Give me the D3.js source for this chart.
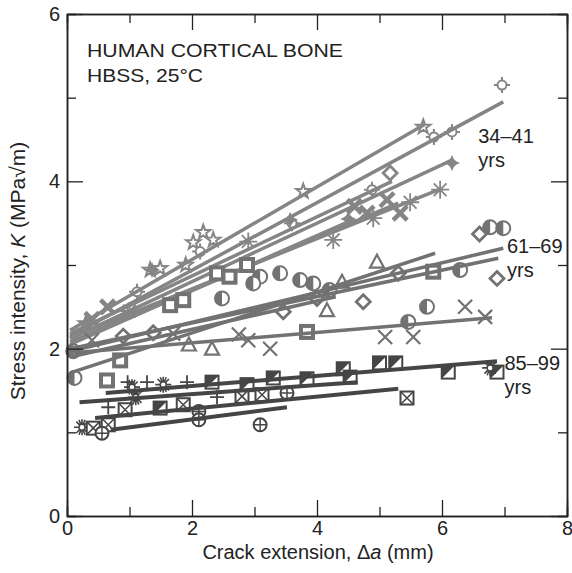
<!DOCTYPE html>
<meta charset="utf-8">
<style>
  body { margin: 0; background: #fff; }
  text { font-family: "Liberation Sans", Arial, sans-serif; fill: #222; }
</style>
<script src="https://d3js.org/d3.v7.min.js"></script>
<div id="chart"></div>
<script>
// line fits: [a0, K0, a1, K1]
const youngLines = [
  [0.05, 2.22, 5.72, 4.68],
  [0.05, 2.15, 6.98, 4.95],
  [0.05, 2.12, 6.15, 4.25],
  [0.05, 2.13, 5.95, 3.90],
  [0.05, 2.08, 5.30, 3.74],
  [0.05, 2.18, 5.20, 4.00],
  [0.05, 2.05, 4.60, 3.55]
];
const midLines = [
  [0.05, 1.97, 6.98, 3.20],
  [0.05, 2.00, 6.90, 3.08],
  [0.05, 1.71, 5.89, 3.14],
  [0.10, 1.95, 6.80, 2.37],
  [0.05, 1.90, 4.30, 2.62]
];
const oldLines = [
  [0.62, 1.47, 6.88, 1.85],
  [0.20, 1.36, 4.65, 1.60],
  [0.45, 1.17, 5.30, 1.52],
  [0.70, 1.03, 3.52, 1.30]
];

// measured points: [a, K, marker]
const youngPoints = [
  [5.70, 4.65, "star"], [3.78, 3.88, "star"], [2.18, 3.39, "star"], [2.02, 3.27, "star"],
  [2.34, 3.30, "star"], [1.33, 2.94, "star"], [1.49, 2.96, "star"], [1.90, 3.00, "star"], [0.30, 2.30, "star"],
  [6.96, 5.15, "circx"], [5.87, 4.53, "circx"], [6.16, 4.59, "circx"], [4.88, 3.90, "circx"],
  [2.13, 3.16, "circx"], [1.12, 2.68, "circx"], [3.60, 3.50, "circx"],
  [6.16, 4.22, "fstar"], [3.57, 3.54, "fstar"], [1.36, 2.94, "fstar"], [4.50, 3.55, "fstar"],
  [5.17, 4.10, "diam"],
  [5.97, 3.90, "aster"], [5.49, 3.75, "aster"], [4.90, 3.56, "aster"], [4.26, 3.30, "aster"],
  [2.90, 3.28, "aster"], [1.00, 2.45, "aster"],
  [5.12, 3.78, "xbold"], [5.33, 3.62, "xbold"], [4.80, 3.62, "xbold"], [4.60, 3.70, "xbold"],
  [0.65, 2.50, "xbold"], [0.40, 2.35, "xbold"]
];
const midPoints = [
  [6.77, 3.45, "halfc"], [6.98, 3.44, "halfc"], [6.29, 2.94, "halfc"], [5.76, 2.50, "halfc"],
  [5.46, 2.32, "halfc"], [3.09, 2.86, "halfc"], [3.41, 2.90, "halfc"], [3.73, 2.82, "halfc"],
  [3.94, 2.78, "halfc"], [2.98, 2.78, "halfc"], [2.48, 2.60, "halfc"], [0.10, 1.97, "halfc"],
  [0.12, 1.65, "halfc"], [4.20, 2.70, "halfc"],
  [6.60, 3.37, "diam"], [6.88, 2.84, "diam"], [4.74, 2.56, "diam"], [1.38, 2.19, "diam"],
  [0.90, 2.15, "diam"], [3.46, 2.44, "diam"], [5.30, 2.90, "diam"], [4.00, 2.60, "diam"],
  [0.85, 1.86, "sq"], [5.86, 2.92, "sq"], [3.84, 2.20, "sq"], [2.40, 2.90, "sq"], [2.88, 3.00, "sq"],
  [2.60, 2.86, "sq"], [1.65, 2.52, "sq"], [1.86, 2.58, "sq"], [0.64, 1.62, "sq"],
  [4.96, 3.04, "tri"], [4.16, 2.46, "tri"], [2.32, 2.00, "tri"], [1.95, 2.05, "tri"], [4.40, 2.80, "tri"],
  [6.37, 2.50, "x"], [6.69, 2.38, "x"], [5.54, 2.14, "x"], [5.09, 2.14, "x"], [3.25, 2.00, "x"],
  [2.90, 2.10, "x"], [2.75, 2.17, "x"], [1.70, 2.18, "x"], [0.40, 2.10, "x"]
];
const oldPoints = [
  [2.32, 1.60, "halfsq"], [2.88, 1.57, "halfsq"], [3.30, 1.65, "halfsq"], [3.84, 1.64, "halfsq"],
  [4.42, 1.76, "halfsq"], [4.53, 1.66, "halfsq"], [5.00, 1.83, "halfsq"], [5.26, 1.83, "halfsq"],
  [6.10, 1.72, "halfsq"], [6.88, 1.72, "halfsq"], [1.49, 1.29, "halfsq"],
  [0.97, 1.60, "plus"], [1.28, 1.60, "plus"], [1.92, 1.60, "plus"], [0.66, 1.30, "plus"], [2.40, 1.42, "plus"],
  [1.04, 1.54, "burst"], [1.10, 1.42, "burst"], [1.54, 1.57, "burst"], [0.24, 1.06, "burst"], [6.77, 1.77, "burst"],
  [0.93, 1.27, "sqx"], [0.42, 1.05, "sqx"], [0.66, 1.09, "sqx"], [1.86, 1.33, "sqx"],
  [2.80, 1.43, "sqx"], [3.12, 1.45, "sqx"], [5.44, 1.41, "sqx"],
  [0.56, 0.99, "circp"], [2.11, 1.25, "circp"], [2.11, 1.15, "circp"], [3.09, 1.09, "circp"], [3.52, 1.47, "circp"]
];

const xMajor = [0, 2, 4, 6, 8], xMinor = [1, 3, 5, 7];
const yMajor = [0, 2, 4, 6], yMinor = [1, 3, 5];

const groups = [
  {lines: youngLines, points: youngPoints, color: "#858585", lw: 3.5, label: ["34–41", "yrs"], la: 6.58, lk: 4.46},
  {lines: midLines, points: midPoints, color: "#727272", lw: 3.5, label: ["61–69", "yrs"], la: 7.04, lk: 3.14},
  {lines: oldLines, points: oldPoints, color: "#454545", lw: 4, label: ["85–99", "yrs"], la: 7.0, lk: 1.75}
];

const W = 572, H = 573;
const margin = {top: 14, right: 5, bottom: 57, left: 67};
const width = W - margin.left - margin.right,
      height = H - margin.top - margin.bottom;

const svg = d3.select("#chart").append("svg")
    .attr("width", W).attr("height", H)
  .append("g")
    .attr("transform", `translate(${margin.left},${margin.top})`);

const x = d3.scaleLinear().domain([0, 8]).range([0, width]);
const y = d3.scaleLinear().domain([0, 6]).range([height, 0]);

// draw one marker at origin of g
function drawMark(g, type, c) {
  switch (type) {
    case "star": {
      const pts = d3.range(10).map(i => {
        const r = i % 2 ? 3 : 7.5, t = -Math.PI / 2 + i * Math.PI / 5;
        return [r * Math.cos(t), r * Math.sin(t)];
      });
      g.append("path").attr("d", "M" + pts.join("L") + "Z")
        .attr("fill", "#fff").attr("stroke", c).attr("stroke-width", 2);
      break;
    }
    case "circx":
      g.append("circle").attr("r", 4.5).attr("fill", "#fff").attr("stroke", c).attr("stroke-width", 2);
      g.append("path").attr("d", "M-8,0H-4.5M4.5,0H8M0,-8V-4.5M0,4.5V8").attr("stroke", c).attr("stroke-width", 2);
      break;
    case "fstar":
      g.append("path").attr("d", "M0,-8L2.5,-2.5L8,0L2.5,2.5L0,8L-2.5,2.5L-8,0L-2.5,-2.5Z").attr("fill", c);
      g.append("circle").attr("r", 4).attr("fill", c);
      break;
    case "diam":
      g.append("path").attr("d", "M0,-7L7,0L0,7L-7,0Z").attr("fill", "#fff").attr("stroke", c).attr("stroke-width", 2.8);
      break;
    case "aster":
      g.append("path").attr("d", "M-9,0H9M0,-9V9M-6.4,-6.4L6.4,6.4M-6.4,6.4L6.4,-6.4").attr("stroke", c).attr("stroke-width", 1.8);
      break;
    case "xbold":
      g.append("path").attr("d", "M-7,-7L7,7M-7,7L7,-7").attr("stroke", c).attr("stroke-width", 4.5);
      break;
    case "halfc":
      g.append("circle").attr("r", 7).attr("fill", "#fff").attr("stroke", c).attr("stroke-width", 2);
      g.append("path").attr("d", "M0,-7A7,7 0 0 0 0,7Z").attr("fill", c);
      break;
    case "sq":
      g.append("rect").attr("x", -6).attr("y", -6).attr("width", 12).attr("height", 12)
        .attr("fill", "#fff").attr("stroke", c).attr("stroke-width", 4);
      break;
    case "tri":
      g.append("path").attr("d", "M0,-7L7,6L-7,6Z").attr("fill", "#fff").attr("stroke", c).attr("stroke-width", 2.2);
      break;
    case "x":
      g.append("path").attr("d", "M-7,-7L7,7M-7,7L7,-7").attr("stroke", c).attr("stroke-width", 2.2);
      break;
    case "halfsq":
      g.append("rect").attr("x", -6.5).attr("y", -6.5).attr("width", 13).attr("height", 13)
        .attr("fill", "#fff").attr("stroke", c).attr("stroke-width", 2);
      g.append("path").attr("d", "M-6.5,-6.5H6.5L-6.5,6.5Z").attr("fill", c);
      break;
    case "plus":
      g.append("path").attr("d", "M-7,0H7M0,-7V7").attr("stroke", c).attr("stroke-width", 1.8);
      break;
    case "burst":
      g.append("path").attr("d", "M-8,0H8M0,-8V8M-5.7,-5.7L5.7,5.7M-5.7,5.7L5.7,-5.7M-3,-7.4L3,7.4M3,-7.4L-3,7.4")
        .attr("stroke", c).attr("stroke-width", 1.6);
      g.append("circle").attr("r", 3).attr("fill", "#fff").attr("stroke", c).attr("stroke-width", 1.5);
      break;
    case "sqx":
      g.append("rect").attr("x", -6.5).attr("y", -6.5).attr("width", 13).attr("height", 13)
        .attr("fill", "#fff").attr("stroke", c).attr("stroke-width", 2);
      g.append("path").attr("d", "M-6,-6L6,6M-6,6L6,-6").attr("stroke", c).attr("stroke-width", 1.5);
      break;
    case "circp":
      g.append("circle").attr("r", 6.5).attr("fill", "#fff").attr("stroke", c).attr("stroke-width", 2);
      g.append("path").attr("d", "M-6.5,0H6.5M0,-6.5V6.5").attr("stroke", c).attr("stroke-width", 1.5);
      break;
  }
}

// points first, then fit lines over them
groups.forEach(grp => {
  const pg = svg.append("g");
  grp.points.forEach(p => {
    const g = pg.append("g").attr("transform", `translate(${x(p[0])},${y(p[1])})`);
    drawMark(g, p[2], grp.color);
  });
  svg.append("g").selectAll("line")
    .data(grp.lines)
    .join("line")
      .attr("x1", d => x(d[0])).attr("y1", d => y(d[1]))
      .attr("x2", d => x(d[2])).attr("y2", d => y(d[3]))
      .attr("stroke", grp.color)
      .attr("stroke-width", grp.lw)
      .attr("stroke-linecap", "butt");
  const t = svg.append("text")
      .attr("x", x(grp.la)).attr("y", y(grp.lk))
      .style("font-size", "20px");
  t.append("tspan").text(grp.label[0]);
  t.append("tspan").attr("x", x(grp.la)).attr("dy", 24).text(grp.label[1]);
});

// axes with inward ticks on all four sides
function styleAxis(g) {
  g.selectAll("path.domain").attr("stroke", "#222").attr("stroke-width", 1.5);
  g.selectAll(".tick line").attr("stroke", "#222").attr("stroke-width", 1.3);
  g.selectAll(".tick text").style("font-size", "20px").attr("fill", "#222")
    .style("font-family", "'Liberation Sans', Arial, sans-serif");
}
const fmt = d3.format("d");
svg.append("g").attr("transform", `translate(0,${height})`)
  .call(d3.axisBottom(x).tickValues(xMajor).tickSize(-16).tickSizeOuter(0).tickPadding(5).tickFormat(fmt))
  .call(styleAxis);
svg.append("g").attr("transform", `translate(0,${height})`)
  .call(d3.axisBottom(x).tickValues(xMinor).tickSize(-9).tickFormat(""))
  .call(styleAxis);
svg.append("g")
  .call(d3.axisTop(x).tickValues(xMajor).tickSize(-16).tickSizeOuter(0).tickFormat(""))
  .call(styleAxis);
svg.append("g")
  .call(d3.axisTop(x).tickValues(xMinor).tickSize(-9).tickFormat(""))
  .call(styleAxis);
svg.append("g")
  .call(d3.axisLeft(y).tickValues(yMajor).tickSize(-16).tickSizeOuter(0).tickPadding(7).tickFormat(fmt))
  .call(styleAxis);
svg.append("g")
  .call(d3.axisLeft(y).tickValues(yMinor).tickSize(-9).tickFormat(""))
  .call(styleAxis);
svg.append("g").attr("transform", `translate(${width},0)`)
  .call(d3.axisRight(y).tickValues(yMajor).tickSize(-16).tickSizeOuter(0).tickFormat(""))
  .call(styleAxis);
svg.append("g").attr("transform", `translate(${width},0)`)
  .call(d3.axisRight(y).tickValues(yMinor).tickSize(-9).tickFormat(""))
  .call(styleAxis);

// titles
const title = svg.append("text").attr("x", 20).attr("y", 43).style("font-size", "19px");
title.append("tspan").attr("textLength", 256).attr("lengthAdjust", "spacingAndGlyphs").text("HUMAN CORTICAL BONE");
title.append("tspan").attr("x", 20).attr("dy", 25).attr("textLength", 116).attr("lengthAdjust", "spacingAndGlyphs").text("HBSS, 25°C");

const xl = svg.append("text")
    .attr("x", width / 2 + 1).attr("y", height + 43)
    .attr("text-anchor", "middle")
    .style("font-size", "20px");
xl.append("tspan").text("Crack extension, Δ");
xl.append("tspan").style("font-style", "italic").text("a");
xl.append("tspan").text(" (mm)");

const yl = svg.append("text")
    .attr("transform", `translate(${-42},${height / 2 + 6}) rotate(-90)`)
    .attr("text-anchor", "middle")
    .style("font-size", "21px");
yl.append("tspan").text("Stress intensity, ");
yl.append("tspan").style("font-style", "italic").text("K");
yl.append("tspan").text(" (MPa√m)");
</script>
